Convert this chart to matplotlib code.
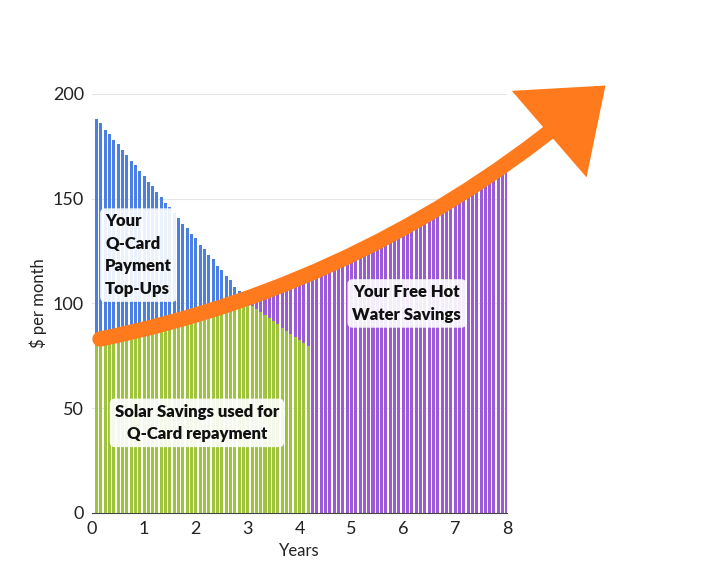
import matplotlib.pyplot as plt
from matplotlib.patches import FancyArrowPatch
from matplotlib.path import Path

plt.rcParams['font.family'] = ['Lato', 'DejaVu Sans']

# total monthly savings (purple), month 1..96
total = [80, 80.5, 81, 81.5, 82, 82.5, 83, 83.5, 84, 84.5, 85, 85.5,
         86, 86.6, 87.2, 87.8, 88.4, 89, 89.6, 90.2, 90.8, 91.4, 92, 92.5,
         93, 93.6, 94.2, 94.8, 95.4, 96, 96.6, 97.2, 97.8, 98.4, 99, 99.5,
         100, 100.8, 101.6, 102.4, 103.2, 104, 104.8, 105.6, 106.4, 107.2, 108, 109,
         110, 111, 112, 113, 114, 115, 116, 117, 118, 119.5, 120.5, 121.5,
         123, 124, 125.5, 126.5, 128, 129, 130.5, 131.5, 133, 134, 135.5, 136.5,
         138, 139, 140.5, 141.5, 143, 144, 145.5, 146.5, 148, 149, 150.5, 151.5,
         153, 154, 155.5, 156.5, 158, 159, 160.5, 161.5, 163, 164, 165.5, 167]
# solar savings used for repayment (green), month 1..50
solar = total[:36] + [99, 97.5, 96, 94.5, 93, 91.5, 90, 88.5, 87, 85.5, 84, 82.5, 81, 79.5]
# total height incl. Q-card top-ups (blue), month 1..34
topup_total = [188, 186, 183, 181, 178, 176, 173, 171, 168, 166, 163, 161, 158, 156, 153, 151,
               148, 146, 143, 141, 138, 136, 133, 131, 128, 126, 123, 121, 118, 116, 113, 111, 108, 106]

months = [(i + 1) / 12 for i in range(len(total))]
w = 0.7 / 12

fig = plt.figure(figsize=(7.09, 5.78), dpi=100)
ax = fig.add_axes([0.13, 0.1125, 0.585, 0.725])
ax.bar(months, total, width=w, color='#9b5bd8', zorder=2)
ax.bar(months[:len(solar)], solar, width=w, color='#9dc43b', zorder=3)
topup = [t - s for t, s in zip(topup_total, solar)]
ax.bar(months[:len(topup)], topup, bottom=solar[:len(topup)], width=w, color='#4b80e2', zorder=3)

ax.set_xlim(0, 8)
ax.set_ylim(0, 200)
ax.set_yticks([0, 50, 100, 150, 200])
ax.set_xticks(range(9))
ax.grid(axis='y', color='#e6e6e6', lw=0.8, zorder=0)
for s in ['top', 'right', 'left']:
    ax.spines[s].set_visible(False)
ax.spines['bottom'].set_color('#444444')
ax.tick_params(length=0, labelsize=13, colors='#222222', pad=6)
ax.set_xlabel('Years', fontsize=12, color='#222222')
ax.set_ylabel('$ per month', fontsize=12, color='#222222')

path = Path([(0.15, 83), (5.5, 110), (9.9, 204)], [Path.MOVETO, Path.CURVE3, Path.CURVE3])
arr = FancyArrowPatch(path=path, arrowstyle='-|>,head_length=1.3,head_width=1.0',
                      mutation_scale=30, color='#ff7a1c', lw=11, capstyle='round',
                      joinstyle='miter', clip_on=False, zorder=5, transform=ax.transData)
ax.add_patch(arr)

box = dict(boxstyle='round,pad=0.3', fc='white', ec='none', alpha=0.9)
ax.text(0.25, 143, 'Your\nQ-Card\nPayment\nTop-Ups', fontsize=12, fontweight='heavy',
        va='top', ha='left', linespacing=1.5, bbox=box, zorder=6, color='#111111')
ax.text(6.07, 100, 'Your Free Hot\nWater Savings', fontsize=12, fontweight='heavy',
        va='center', ha='center', linespacing=1.5, bbox=box, zorder=6, color='#111111')
ax.text(2.02, 43, 'Solar Savings used for\nQ-Card repayment', fontsize=12, fontweight='heavy',
        va='center', ha='center', linespacing=1.5, bbox=box, zorder=6, color='#111111')

fig.savefig('out.png')
